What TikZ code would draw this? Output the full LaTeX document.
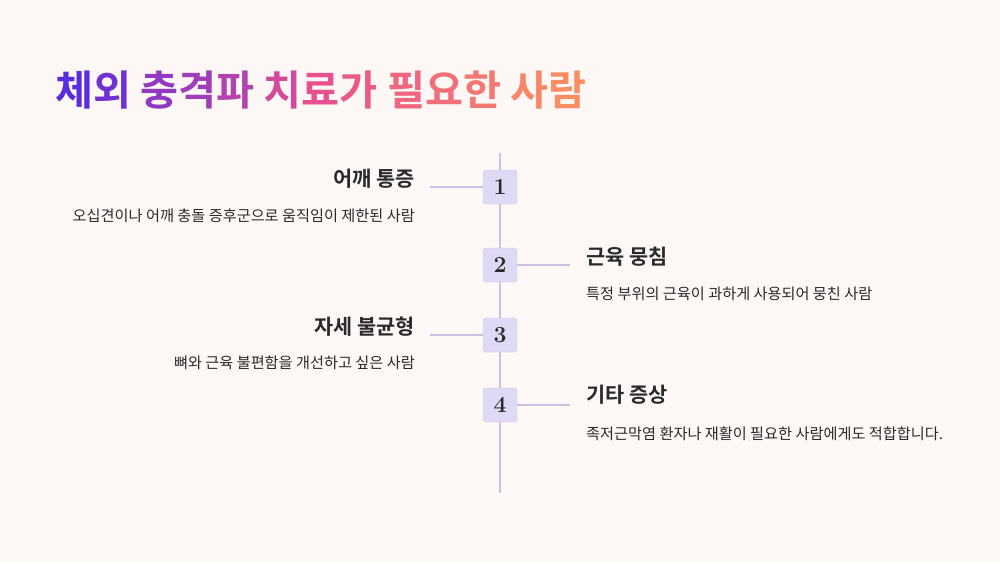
\documentclass[tikz,border=0pt]{standalone}
\usepackage{fontspec}
\newfontfamily\kr{Noto Sans CJK KR}
\newfontfamily\krb{Noto Sans CJK KR Bold}
\definecolor{bg}{HTML}{FDF8F5}
\definecolor{ln}{HTML}{CBC1E3}
\definecolor{bx}{HTML}{E0D9F5}
\definecolor{bxd}{HTML}{CFC3EC}
\definecolor{tx}{HTML}{2A2A2A}
\definecolor{ga}{HTML}{5B2BE0}
\definecolor{gb}{HTML}{E8508F}
\definecolor{gc}{HTML}{FA8E62}
\tikzset{
 numbox/.style={draw=bxd,fill=bx,rounded corners=3pt,minimum size=34pt,inner sep=0pt,font=\bfseries\fontsize{23}{23}\selectfont,text=tx},
 head/.style={font=\krb\fontsize{20.8}{22}\selectfont,text=tx,inner sep=0pt},
 desc/.style={font=\kr\fontsize{15.2}{17}\selectfont,text=tx,inner sep=0pt},
 conn/.style={draw=ln,line width=1.5pt}
}
\begin{document}
\begin{tikzpicture}[x=1pt,y=-1pt]
\fill[bg] (0,0) rectangle (1000,563);
\useasboundingbox (0,0) rectangle (1000,563);
\node[anchor=west,inner sep=0pt,font=\krb\fontsize{41.3}{44}\selectfont] (title) at (55,90)
 {\textcolor{ga}{체}\textcolor{ga!85!gb}{외} \textcolor{ga!62!gb}{충}\textcolor{ga!50!gb}{격}\textcolor{ga!38!gb}{파} \textcolor{ga!15!gb}{치}\textcolor{gb}{료}\textcolor{gb!85!gc}{가} \textcolor{gb!65!gc}{필}\textcolor{gb!50!gc}{요}\textcolor{gb!35!gc}{한} \textcolor{gb!12!gc}{사}\textcolor{gc}{람}};
\coordinate (top) at (500,153);
\coordinate (bot) at (500,493);
\draw[conn] (top) -- (bot);
\node[numbox] (n1) at (500,187) {1};
\node[numbox] (n2) at (500,265) {2};
\node[numbox] (n3) at (500,335) {3};
\node[numbox] (n4) at (500,405) {4};
\coordinate (l1) at (430,187);
\coordinate (l2) at (570,265);
\coordinate (l3) at (430,335);
\coordinate (l4) at (570,405);
\draw[conn] (n1) -- (l1);
\draw[conn] (n2) -- (l2);
\draw[conn] (n3) -- (l3);
\draw[conn] (n4) -- (l4);
\node[head,anchor=east] (h1) at (415,179) {어깨 통증};
\node[desc,anchor=east] (d1) at (415,216) {오십견이나 어깨 충돌 증후군으로 움직임이 제한된 사람};
\node[head,anchor=west] (h2) at (586,257) {근육 뭉침};
\node[desc,anchor=west] (d2) at (586,294) {특정 부위의 근육이 과하게 사용되어 뭉친 사람};
\node[head,anchor=east] (h3) at (415,327) {자세 불균형};
\node[desc,anchor=east] (d3) at (415,363) {뼈와 근육 불편함을 개선하고 싶은 사람};
\node[head,anchor=west] (h4) at (586,395) {기타 증상};
\node[desc,anchor=west] (d4) at (586,434) {족저근막염 환자나 재활이 필요한 사람에게도 적합합니다.};
\end{tikzpicture}
\end{document}
